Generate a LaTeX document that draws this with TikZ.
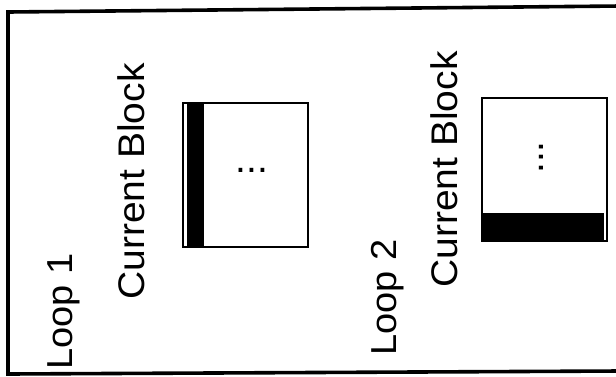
\documentclass[tikz,border=0pt]{standalone}
\usepackage{fontspec}
\setmainfont{Liberation Sans}
\usetikzlibrary{positioning}

% glyphs a little flatter than wide, as in the scan
\newcommand{\squash}[1]{\scalebox{1}[0.95]{#1}}

\begin{document}
\begin{tikzpicture}[
      x=0.5pt, y=-0.5pt,
      lbl/.style={inner sep=0pt, font=\fontsize{19.5}{22}\selectfont},
      vlbl/.style={lbl, rotate=90, anchor=base west},
      blk/.style={draw, line width=1.3pt, minimum width=62.5pt, inner sep=0pt},
      bar/.style={fill=black}
  ]
    \useasboundingbox (0,0) rectangle (616,376);
    % frame round the figure, open on the right
    \coordinate (tr) at (620,6);
    \coordinate (tl) at (8,12);
    \coordinate (bl) at (8,374);
    \coordinate (br) at (620,371);
    \draw[line width=1.8pt] (tr)--(tl)--(bl)--(br);
    % loop 1
    \node[vlbl, font=\fontsize{19}{22}\selectfont](loop1) at (72,370){\squash{Loop 1}};
    \node[vlbl](cur1) at (144,300){\squash{Current Block}};
    \node[blk, minimum height=72pt](box1) at (245.5,175){};
    \fill[bar] ([xshift=2.5pt,yshift=-0.8pt]box1.north west) rectangle ([xshift=11pt,yshift=0.8pt]box1.south west);
    \node[lbl, anchor=base](dots1) at (252,172){...};
    % loop 2
    \node[vlbl, font=\fontsize{19}{22}\selectfont](loop2) at (396,356){\squash{Loop 2}};
    \node[vlbl](cur2) at (457,288){\squash{Current Block}};
    \node[blk, minimum height=71.5pt](box2) at (544.5,169.5){};
    \fill[bar] ([xshift=0.8pt,yshift=0.8pt]box2.south west) rectangle ([xshift=-2pt,yshift=14.5pt]box2.south east);
    \node[lbl, rotate=90, anchor=base](dots2) at (543.5,157.5){...};
  \end{tikzpicture}
\end{document}
